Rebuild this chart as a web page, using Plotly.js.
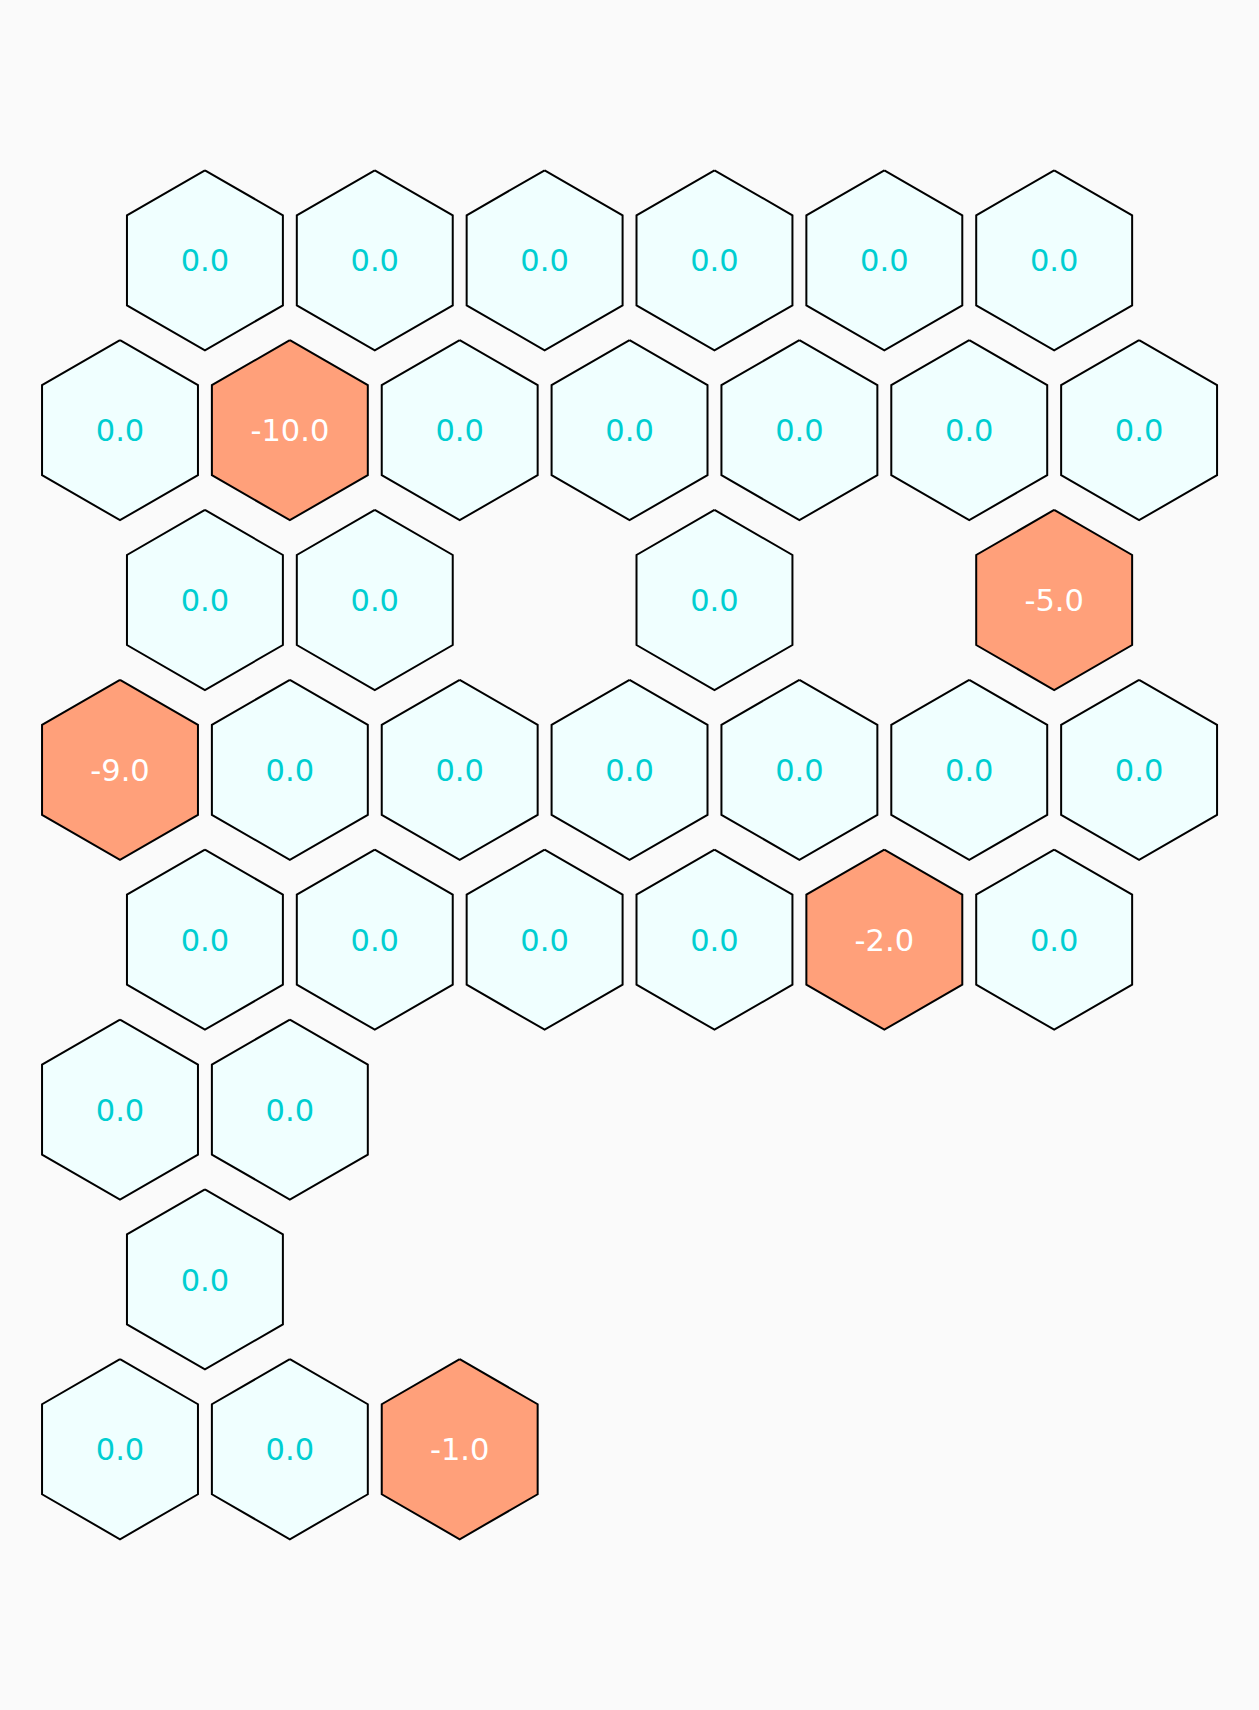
<!DOCTYPE html>
<html>
<head>
<meta charset="utf-8">
<script src="https://cdn.plot.ly/plotly-3.0.1.min.js"></script>
<style>
  html, body { margin: 0; padding: 0; background: #fafafa; }
  #chart { width: 1259px; height: 1710px; }
</style>
</head>
<body>
<div id="chart"></div>
<script>
// Hex grid cells: row index, column index within row (even rows are offset by half a cell), value
const cellRow   = [0,0,0,0,0,0, 1,1,1,1,1,1,1, 2,2,2,2, 3,3,3,3,3,3,3, 4,4,4,4,4,4, 5,5, 6, 7,7,7];
const cellCol   = [0,1,2,3,4,5, 0,1,2,3,4,5,6, 0,1,3,5, 0,1,2,3,4,5,6, 0,1,2,3,4,5, 0,1, 0, 0,1,2];
const cellValue = [0,0,0,0,0,0, 0,-10,0,0,0,0,0, 0,0,0,-5, -9,0,0,0,0,0,0, 0,0,0,0,-2,0, 0,0, 0, 0,0,-1];

const zeroFill = '#f0ffff';
const negFill = '#ffa07a';
const zeroText = '#00ced1';
const negText = '#ffffff';

const R = 0.53;              // hex circumradius in grid units
const W = 1259, H = 1710;
const unitPx = 169.85;       // pixel size of one grid unit
const x0px = 120, y0px = 260.3;
const textShift = 3.5 / unitPx;

function centerX(i) { return cellCol[i] + (cellRow[i] % 2 === 0 ? 0.5 : 0); }
function centerY(i) { return cellRow[i]; }

const polys = { zero: {x: [], y: []}, neg: {x: [], y: []} };
for (let i = 0; i < cellValue.length; i++) {
  const cx = centerX(i), cy = centerY(i);
  const target = cellValue[i] < 0 ? polys.neg : polys.zero;
  for (let k = 0; k <= 6; k++) {
    const a = (k % 6) * Math.PI / 3;
    target.x.push(cx + R * Math.sin(a));
    target.y.push(cy - R * Math.cos(a));
  }
  target.x.push(null);
  target.y.push(null);
}

const traces = [
  {
    type: 'scatter', mode: 'lines', x: polys.zero.x, y: polys.zero.y,
    fill: 'toself', fillcolor: zeroFill, line: {color: '#000000', width: 2},
    hoverinfo: 'skip', showlegend: false
  },
  {
    type: 'scatter', mode: 'lines', x: polys.neg.x, y: polys.neg.y,
    fill: 'toself', fillcolor: negFill, line: {color: '#000000', width: 2},
    hoverinfo: 'skip', showlegend: false
  },
  {
    type: 'scatter', mode: 'text',
    x: cellValue.map((v, i) => centerX(i)),
    y: cellValue.map((v, i) => centerY(i) + textShift),
    text: cellValue.map(v => v.toFixed(1)),
    textposition: 'middle center',
    textfont: {family: 'DejaVu Sans', size: 30.5, color: cellValue.map(v => v < 0 ? negText : zeroText)},
    hoverinfo: 'skip', showlegend: false
  }
];

const layout = {
  width: W, height: H,
  margin: {l: 0, r: 0, t: 0, b: 0},
  paper_bgcolor: '#fafafa', plot_bgcolor: '#fafafa',
  xaxis: {
    range: [-x0px / unitPx, (W - x0px) / unitPx],
    visible: false, showgrid: false, zeroline: false, fixedrange: true
  },
  yaxis: {
    range: [(H - y0px) / unitPx, -y0px / unitPx],
    visible: false, showgrid: false, zeroline: false, fixedrange: true
  },
  showlegend: false
};

Plotly.newPlot('chart', traces, layout, {displayModeBar: false, staticPlot: true});
</script>
</body>
</html>
